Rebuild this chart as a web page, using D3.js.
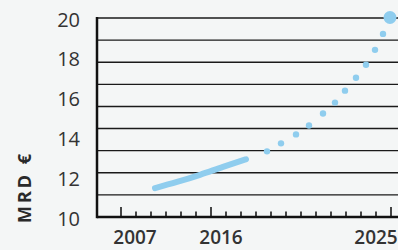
<!DOCTYPE html>
<html>
<head>
<meta charset="utf-8">
<script src="https://cdn.jsdelivr.net/npm/d3@7"></script>
<style>
  html, body { margin: 0; padding: 0; background: #f4f6f6; }
  svg { display: block; }
  .lbl { font-family: "Open Sans", sans-serif; font-size: 20px; fill: #333; }
  .title { font-family: "Open Sans", sans-serif; font-size: 18px; font-weight: 700; fill: #2a2a2a; letter-spacing: 3px; }
</style>
</head>
<body>
<div id="chart"></div>
<script>
// ---- data ----
const yTicks = [10, 12, 14, 16, 18, 20];
const xLabels = ["2007", "2016", "2025"];
const xBreaks = [2007, 2016, 2025];

// solid part (actual)
const actual = [
  { year: 2010.4, value: 11.45 },
  { year: 2012.6, value: 11.76 },
  { year: 2014.9, value: 12.12 },
  { year: 2016.6, value: 12.52 },
  { year: 2017.75, value: 12.9 }
];

// dotted part (projection)
const forecast = [
  { year: 2018.8, value: 13.3 },
  { year: 2019.5, value: 13.7 },
  { year: 2020.25, value: 14.15 },
  { year: 2020.9, value: 14.6 },
  { year: 2021.6, value: 15.2 },
  { year: 2022.2, value: 15.75 },
  { year: 2022.7, value: 16.35 },
  { year: 2023.25, value: 17.0 },
  { year: 2023.75, value: 17.65 },
  { year: 2024.2, value: 18.4 },
  { year: 2024.6, value: 19.2 }
];
const target = { year: 2025, value: 20 };

// ---- layout ----
const W = 398, H = 250;
const plotLeft = 97, plotTop = 18, plotBottom = 217;
const gridCount = 9;
const blue = "#8fcdee";

const svg = d3.select("#chart").append("svg")
  .attr("width", W).attr("height", H);

// x axis is not linear in the original: 2007-2016 is half as wide as 2016-2025
const x = d3.scaleLinear().domain(xBreaks).range([121, 211, 391]);
const y = d3.scaleLinear().domain([10, 20]).range([plotBottom, plotTop]);

// horizontal rules
const gridVals = d3.range(1, gridCount + 1).map(i => 10 + i * 10 / gridCount);
svg.append("g").selectAll("line").data(gridVals).join("line")
  .attr("x1", plotLeft).attr("x2", W)
  .attr("y1", d => y(d)).attr("y2", d => y(d))
  .attr("stroke", "#1a1a1a").attr("stroke-width", 1.4);

// ticks on the bottom axis
const minor = d3.range(2007, 2016, 1.5).concat(d3.range(2016, 2025.01, 0.75));
svg.append("g").selectAll("line").data(minor).join("line")
  .attr("x1", d => x(d)).attr("x2", d => x(d))
  .attr("y1", plotBottom)
  .attr("y2", d => xBreaks.includes(d) ? plotBottom - 10 : plotBottom - 5.5)
  .attr("stroke", "#1a1a1a").attr("stroke-width", 1.6);

// axes
svg.append("line").attr("x1", plotLeft).attr("x2", W).attr("y1", plotBottom).attr("y2", plotBottom)
  .attr("stroke", "#111").attr("stroke-width", 2.5);
svg.append("line").attr("x1", plotLeft).attr("x2", plotLeft).attr("y1", plotTop - 1).attr("y2", plotBottom + 1.2)
  .attr("stroke", "#111").attr("stroke-width", 2.5);

// y labels
svg.append("g").selectAll("text").data(yTicks).join("text")
  .attr("class", "lbl")
  .attr("x", 80).attr("y", d => y(d) + 1)
  .attr("text-anchor", "end").attr("dominant-baseline", "central")
  .text(d => d);

// x labels (offset from their ticks as in the original)
const xOffsets = [14, 10, -15];
svg.append("g").selectAll("text").data(xLabels).join("text")
  .attr("class", "lbl")
  .attr("x", (d, i) => x(+d) + xOffsets[i]).attr("y", 244)
  .attr("text-anchor", "middle")
  .style("font-weight", 600).style("font-size", "19px")
  .text(d => d);

// axis title
svg.append("text").attr("class", "title")
  .attr("transform", "translate(31,187) rotate(-90)")
  .attr("text-anchor", "middle")
  .text("MRD €");

// solid line
const line = d3.line().x(d => x(d.year)).y(d => y(d.value)).curve(d3.curveMonotoneX);
svg.append("path").datum(actual)
  .attr("d", line).attr("fill", "none")
  .attr("stroke", blue).attr("stroke-width", 6).attr("stroke-linecap", "round")
  .attr("stroke-linejoin", "round");

// dots
svg.append("g").selectAll("circle").data(forecast).join("circle")
  .attr("cx", d => x(d.year)).attr("cy", d => y(d.value)).attr("r", 3.2)
  .attr("fill", blue);
svg.append("circle")
  .attr("cx", x(target.year) - 1).attr("cy", y(target.value) - 0.5).attr("r", 6.5)
  .attr("fill", blue);
</script>
</body>
</html>
